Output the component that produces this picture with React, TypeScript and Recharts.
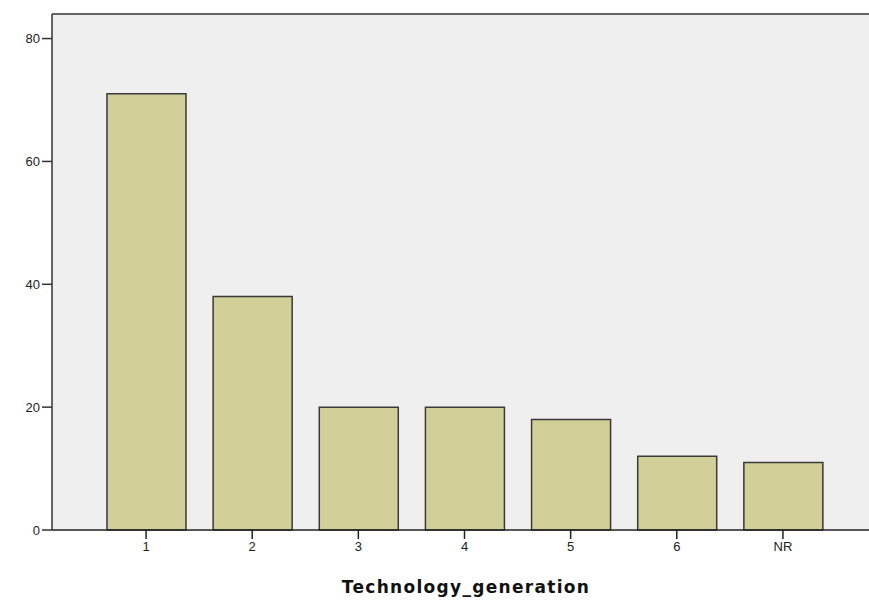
import { BarChart, Bar, XAxis, YAxis, CartesianGrid, ReferenceLine } from "recharts"

const categories: string[] = ['1', '2', '3', '4', '5', '6', 'NR']
const counts: number[] = [71, 38, 20, 20, 18, 12, 11]
const yTicks: number[] = [0, 20, 40, 60, 80]

const dataChart = categories.map((c, i) => ({ generation: c, count: counts[i] }))

const tickFont = { fill: '#222', fontSize: 13, fontFamily: 'Arial, Liberation Sans, sans-serif' }

export default function App() {
    return (
        <div style={{ position: 'absolute', left: 0, top: 0, width: 869, height: 601, overflow: 'hidden', background: '#fff' }}>
            <BarChart width={900} height={601} data={dataChart} margin={{ top: 14, right: 20, bottom: 0, left: 0 }}>
                <CartesianGrid horizontal={false} vertical={false} fill="#EFEFEF" />
                <XAxis
                    dataKey="generation"
                    height={71}
                    padding={{ left: 41, right: 44 }}
                    axisLine={{ stroke: '#222', strokeWidth: 1.5 }}
                    tickLine={{ stroke: '#222', strokeWidth: 1.5 }}
                    tickSize={9}
                    tickMargin={3}
                    tick={tickFont}
                    label={{ value: 'Technology_generation', position: 'insideBottom', offset: 8, fill: '#111', fontSize: 17, letterSpacing: 1.3, fontWeight: 'bold', fontFamily: 'DejaVu Sans, Verdana, sans-serif' }}
                />
                <YAxis
                    width={52}
                    domain={[0, 84]}
                    ticks={yTicks}
                    interval={0}
                    axisLine={{ stroke: '#333', strokeWidth: 1.5 }}
                    tickLine={{ stroke: '#333', strokeWidth: 1.5 }}
                    tickSize={10}
                    tickMargin={2}
                    tick={tickFont}
                />
                <ReferenceLine y={84} stroke="#666" strokeWidth={2} />
                <Bar dataKey="count" fill="#D3CF98" stroke="#3a3a3a" strokeWidth={1.5} barSize={79} isAnimationActive={false} />
            </BarChart>
        </div>
    )
}
